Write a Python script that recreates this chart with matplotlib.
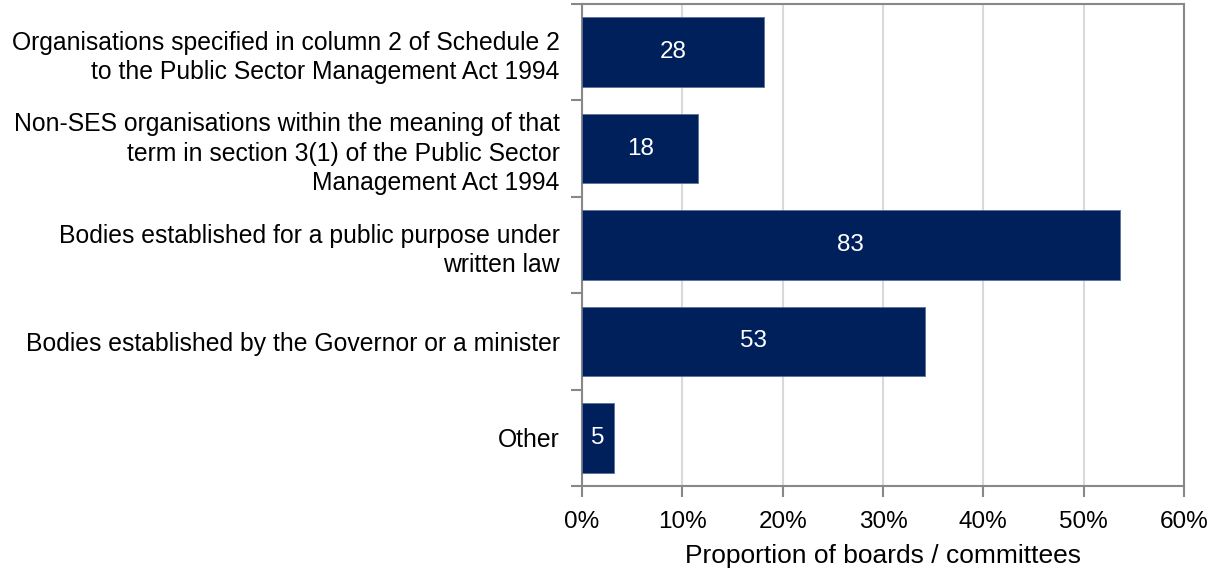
import matplotlib
matplotlib.use("Agg")
import matplotlib.pyplot as plt
from matplotlib.ticker import MultipleLocator, FuncFormatter

categories = [
    "Organisations specified in column 2 of Schedule 2\nto the Public Sector Management Act 1994",
    "Non-SES organisations within the meaning of that\nterm in section 3(1) of the Public Sector\nManagement Act 1994",
    "Bodies established for a public purpose under\nwritten law",
    "Bodies established by the Governor or a minister",
    "Other",
]
counts = [28, 18, 83, 53, 5]
proportions = [18.1, 11.6, 53.6, 34.2, 3.2]

plt.rcParams['font.family'] = ['Liberation Sans', 'DejaVu Sans']

fig = plt.figure(figsize=(12.08, 5.71), dpi=100)
ax = fig.add_axes([582/1208, 1 - 486/571, (1184-582)/1208, (486-4)/571])

navy = "#00205b"
ypos = list(range(len(categories)))
ax.barh(ypos, proportions, height=0.72, color=navy, edgecolor="#5a6f99", linewidth=0.6, zorder=3)
for y, p, c in zip(ypos, proportions, counts):
    ax.text(p / 2, y, str(c), color="white", ha="center", va="center", fontsize=17.5, zorder=4)

ax.set_ylim(len(categories) - 0.5, -0.5)
ax.set_xlim(0, 60)
ax.xaxis.set_major_locator(MultipleLocator(10))
ax.xaxis.set_major_formatter(FuncFormatter(lambda v, _: f"{v:.0f}%"))
ax.set_yticks(ypos)
ax.set_yticklabels(categories, fontsize=17.8, ha="right", linespacing=1.28)
ax.tick_params(axis="y", length=0, pad=16)
ax.set_yticks([i - 0.5 for i in range(len(categories) + 1)], minor=True)
ax.tick_params(axis="y", which="minor", length=8, width=1.5, color="#888888", direction="out")
ax.tick_params(axis="x", length=8, width=1.5, color="#888888", direction="out", labelsize=17.5, pad=10)

ax.grid(axis="x", color="#d9d9d9", linewidth=1.5, zorder=0)
for s in ax.spines.values():
    s.set_color("#888888")
    s.set_linewidth(1.5)

ax.set_xlabel("Proportion of boards / committees", fontsize=19, labelpad=8)

fig.savefig("out.png", dpi=100)
